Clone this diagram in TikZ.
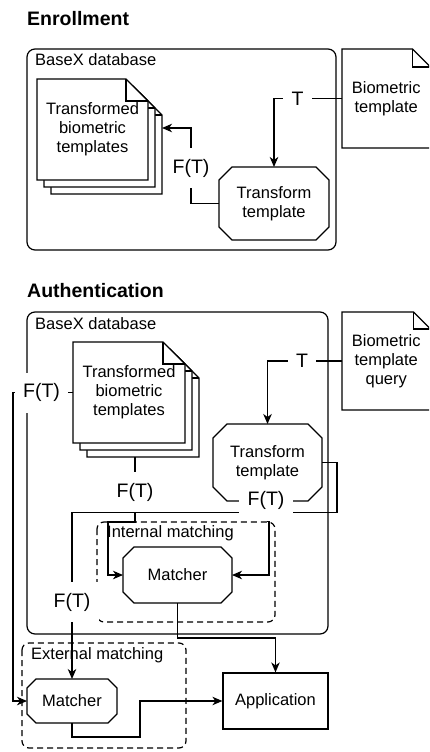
\documentclass[tikz,border=0pt]{standalone}
\usepackage{fontspec}
\setmainfont{Liberation Sans}
\usetikzlibrary{arrows.meta,fit,calc}
\tikzset{
  ln/.style={line width=1.2pt},
  arr/.style={ln, -{Stealth[length=10pt,width=8.5pt,inset=3pt]}},
  elab/.style={fill=white, inner xsep=8.5pt, inner ysep=0pt, minimum height=40pt, font=\fontsize{19.5}{22}\selectfont},
  txt/.style={font=\fontsize{16.5}{19}\selectfont, align=center},
  ttl/.style={font=\bfseries\fontsize{19.5}{22}\selectfont, anchor=base west, inner sep=0pt},
  clab/.style={font=\fontsize{16.5}{19}\selectfont, anchor=base west, inner sep=0pt},
  cont/.style={ln, rounded corners=8pt},
  dcont/.style={ln, rounded corners=7pt, dash pattern=on 6pt off 4pt},
  shp/.style={inner sep=0pt, outer sep=0pt},
}
% note shape: name, x1, y1, x2, y2, fold, text
\newcommand\notebox[7]{%
  \filldraw[ln,fill=white] (#2,#3) -- ({#4-#6},#3) -- (#4,{#3+#6}) -- (#4,#5) -- (#2,#5) -- cycle;
  \draw[ln] ({#4-#6},#3) -- ({#4-#6},{#3+#6}) -- (#4,{#3+#6});
  \node[shp, fit={(#2,#3)(#4,#5)}] (#1) {};
  \node[txt] (#1t) at (#1.center) {#7};
}
% octagon shape: name, x1, y1, x2, y2, chamfer, text
\newcommand\octbox[7]{%
  \filldraw[ln,fill=white] ({#2+#6},#3) -- ({#4-#6},#3) -- (#4,{#3+#6}) -- (#4,{#5-#6}) -- ({#4-#6},#5) -- ({#2+#6},#5) -- (#2,{#5-#6}) -- (#2,{#3+#6}) -- cycle;
  \node[shp, fit={(#2,#3)(#4,#5)}] (#1) {};
  \node[txt] (#1t) at (#1.center) {#7};
}
\begin{document}
\begin{tikzpicture}[x=1pt, y=-1pt]
\useasboundingbox (0,0) rectangle (429,752);
\fill[white] (0,0) rectangle (429,752);
\clip (0,0) rectangle (429,752);

% ---------------- Enrollment ----------------
\node[ttl] (t1) at (27,26) {Enrollment};
\draw[cont] (27,49) rectangle (336,250);
\node[clab] (c1) at (35,66) {BaseX database};

\notebox{bio1}{342}{49}{430.5}{148}{18}{Biometric\\template}
\notebox{st13}{51}{93}{162}{194}{22}{}
\notebox{st12}{44}{86}{155}{187}{22}{}
\notebox{st11}{37}{79}{148}{180}{22}{Transformed\\biometric\\templates}
\octbox{oct1}{219}{167}{329}{240}{13}{Transform\\template}

\draw[arr] (bio1.west) -| (oct1.north);
\draw[arr] (oct1.west) -- ++(-28,0) |- ($(st13.east)+(0,-15.5)$);
\node[elab] (lt1) at (297.5,99) {T};
\node[elab] (lf1) at (191,168) {F(T)};

% ---------------- Authentication ----------------
\node[ttl] (t2) at (27,297) {Authentication};
\draw[cont] (27,312) rectangle (328,634);
\node[clab] (c2) at (35,329) {BaseX database};
\draw[dcont] (97,522) rectangle (275,622);
\node[clab] (c3) at (107,537) {Internal matching};
\draw[dcont] (22,643) rectangle (186,748);
\node[clab] (c4) at (31,659) {External matching};

\notebox{bio2}{342}{312}{430.5}{410}{17}{Biometric\\template\\query}
\notebox{st23}{87}{356}{199}{457}{22}{}
\notebox{st22}{80}{349}{192}{450}{22}{}
\notebox{st21}{73}{342}{185}{443}{22}{Transformed\\biometric\\templates}
\octbox{oct2}{213}{424}{322}{501}{14}{Transform\\template}
\octbox{int}{123}{547}{232}{603}{11}{Matcher}
\octbox{ext}{27}{679}{117}{723}{9}{Matcher}
\node[ln, draw, minimum width=105pt, minimum height=56pt, txt] (app) at (275.5,701) {Application};

\draw[arr] (bio2.west) -| (oct2.north);
\draw[arr] (st21.west) -- ++(-60,0) |- (ext.west);
\draw[arr] ($(st23.south)+(-8,0)$) -- ++(0,65) -- ++(-27,0) |- (int.west);
\draw[arr] (oct2.east) -- ++(15,0) -- ++(0,50) -| (ext.north);
\draw[arr] (oct2.south) -- ++(0,20.5) -- ++(1.5,0) |- (int.east);
\draw[arr] (int.south) -- ++(0,35) -| (app.north);
\draw[arr] (ext.south) -- ++(0,14) -- ++(68,0) |- (app.west);

\node[elab] (la1) at (302,361) {T};
\node[elab] (la2) at (41.5,392.5) {F(T)};
\node[elab] (la3) at (135,492) {F(T)};
\node[elab] (la4) at (266,500.5) {F(T)};
\node[elab] (la5) at (72,602) {F(T)};
\end{tikzpicture}
\end{document}
